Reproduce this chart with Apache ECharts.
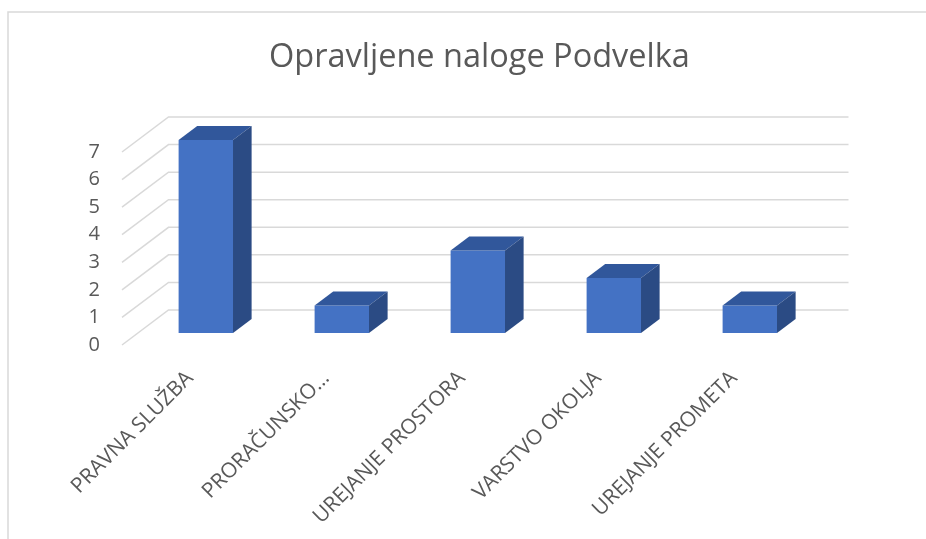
<!DOCTYPE html>
<html>
<head>
<meta charset="utf-8">
<script src="https://cdn.jsdelivr.net/npm/echarts@6/dist/echarts.min.js"></script>
<style>
  html, body { margin: 0; padding: 0; background: #fff; }
  #chart { width: 926px; height: 539px; }
</style>
</head>
<body>
<div id="chart"></div>
<script>
// podatki
var categories = ['PRAVNA SLUŽBA', 'PRORAČUNSKO…', 'UREJANJE PROSTORA', 'VARSTVO OKOLJA', 'UREJANJE PROMETA'];
var values = [7, 1, 3, 2, 1];
var yTicks = [0, 1, 2, 3, 4, 5, 6, 7];

// 3D look: offset of the back wall and where the bars sit in depth
var depthX = 46.5, depthY = -35;
var barFront = 0.34, barBack = 0.74, barWidth = 0.4;
var textColor = '#595959';
var font = 'Open Sans';

var chart = echarts.init(document.getElementById('chart'));

function wallItem(params, api) {
    var band = api.size([1, 0])[0];
    var p = api.coord([0, api.value(0)]);
    var x0 = p[0] - band / 2;
    var y0 = p[1];
    var width = band * categories.length;
    return {
        type: 'polyline',
        shape: {
            points: [[x0, y0], [x0 + depthX, y0 + depthY], [x0 + depthX + width, y0 + depthY]]
        },
        style: { stroke: '#D9D9D9', lineWidth: 1.5, fill: null },
        silent: true
    };
}

function barItem(params, api) {
    var i = api.value(0);
    var band = api.size([1, 0])[0];
    var base = api.coord([i, 0]);
    var top = api.coord([i, api.value(1)]);
    var w = band * barWidth;
    var fx = base[0] - w / 2 + barFront * depthX;
    var fy = base[1] + barFront * depthY;
    var ty = top[1] + barFront * depthY;
    var ox = (barBack - barFront) * depthX;
    var oy = (barBack - barFront) * depthY;
    return {
        type: 'group',
        children: [
            {
                type: 'rect',
                shape: { x: fx, y: ty, width: w, height: fy - ty },
                style: { fill: '#4472C4' }
            },
            {
                type: 'polygon',
                shape: { points: [[fx, ty], [fx + w, ty], [fx + w + ox, ty + oy], [fx + ox, ty + oy]] },
                style: { fill: '#31579B' }
            },
            {
                type: 'polygon',
                shape: { points: [[fx + w, ty], [fx + w, fy], [fx + w + ox, fy + oy], [fx + w + ox, ty + oy]] },
                style: { fill: '#2B4B84' }
            }
        ]
    };
}

chart.setOption({
    backgroundColor: '#fff',
    animation: false,
    title: {
        text: 'Opravljene naloge Podvelka',
        left: 264,
        top: 36,
        textStyle: { color: textColor, fontSize: 32.5, fontWeight: 'normal', fontFamily: font }
    },
    graphic: [{
        type: 'rect',
        shape: { x: 8, y: 12, width: 1000, height: 1000 },
        style: { fill: null, stroke: '#D9D9D9', lineWidth: 1.5 },
        silent: true
    }],
    grid: { left: 122, right: 124, top: 152, bottom: 194 },
    xAxis: {
        type: 'category',
        data: categories,
        axisLine: { show: false },
        axisTick: { show: false },
        axisLabel: {
            rotate: 45,
            margin: 30,
            interval: 0,
            color: textColor,
            fontSize: 21,
            fontFamily: font
        }
    },
    yAxis: {
        type: 'value',
        min: 0,
        max: 7,
        interval: 1,
        axisLine: { show: false },
        axisTick: { show: false },
        splitLine: { show: false },
        axisLabel: { margin: 22, color: textColor, fontSize: 20, fontFamily: font }
    },
    series: [
        {
            type: 'custom',
            renderItem: wallItem,
            data: yTicks.map(function (v) { return [v]; }),
            encode: { y: 0 },
            silent: true,
            z: 1
        },
        {
            type: 'custom',
            renderItem: barItem,
            data: values.map(function (v, i) { return [i, v]; }),
            encode: { x: 0, y: 1 },
            z: 2
        }
    ]
});
</script>
</body>
</html>
